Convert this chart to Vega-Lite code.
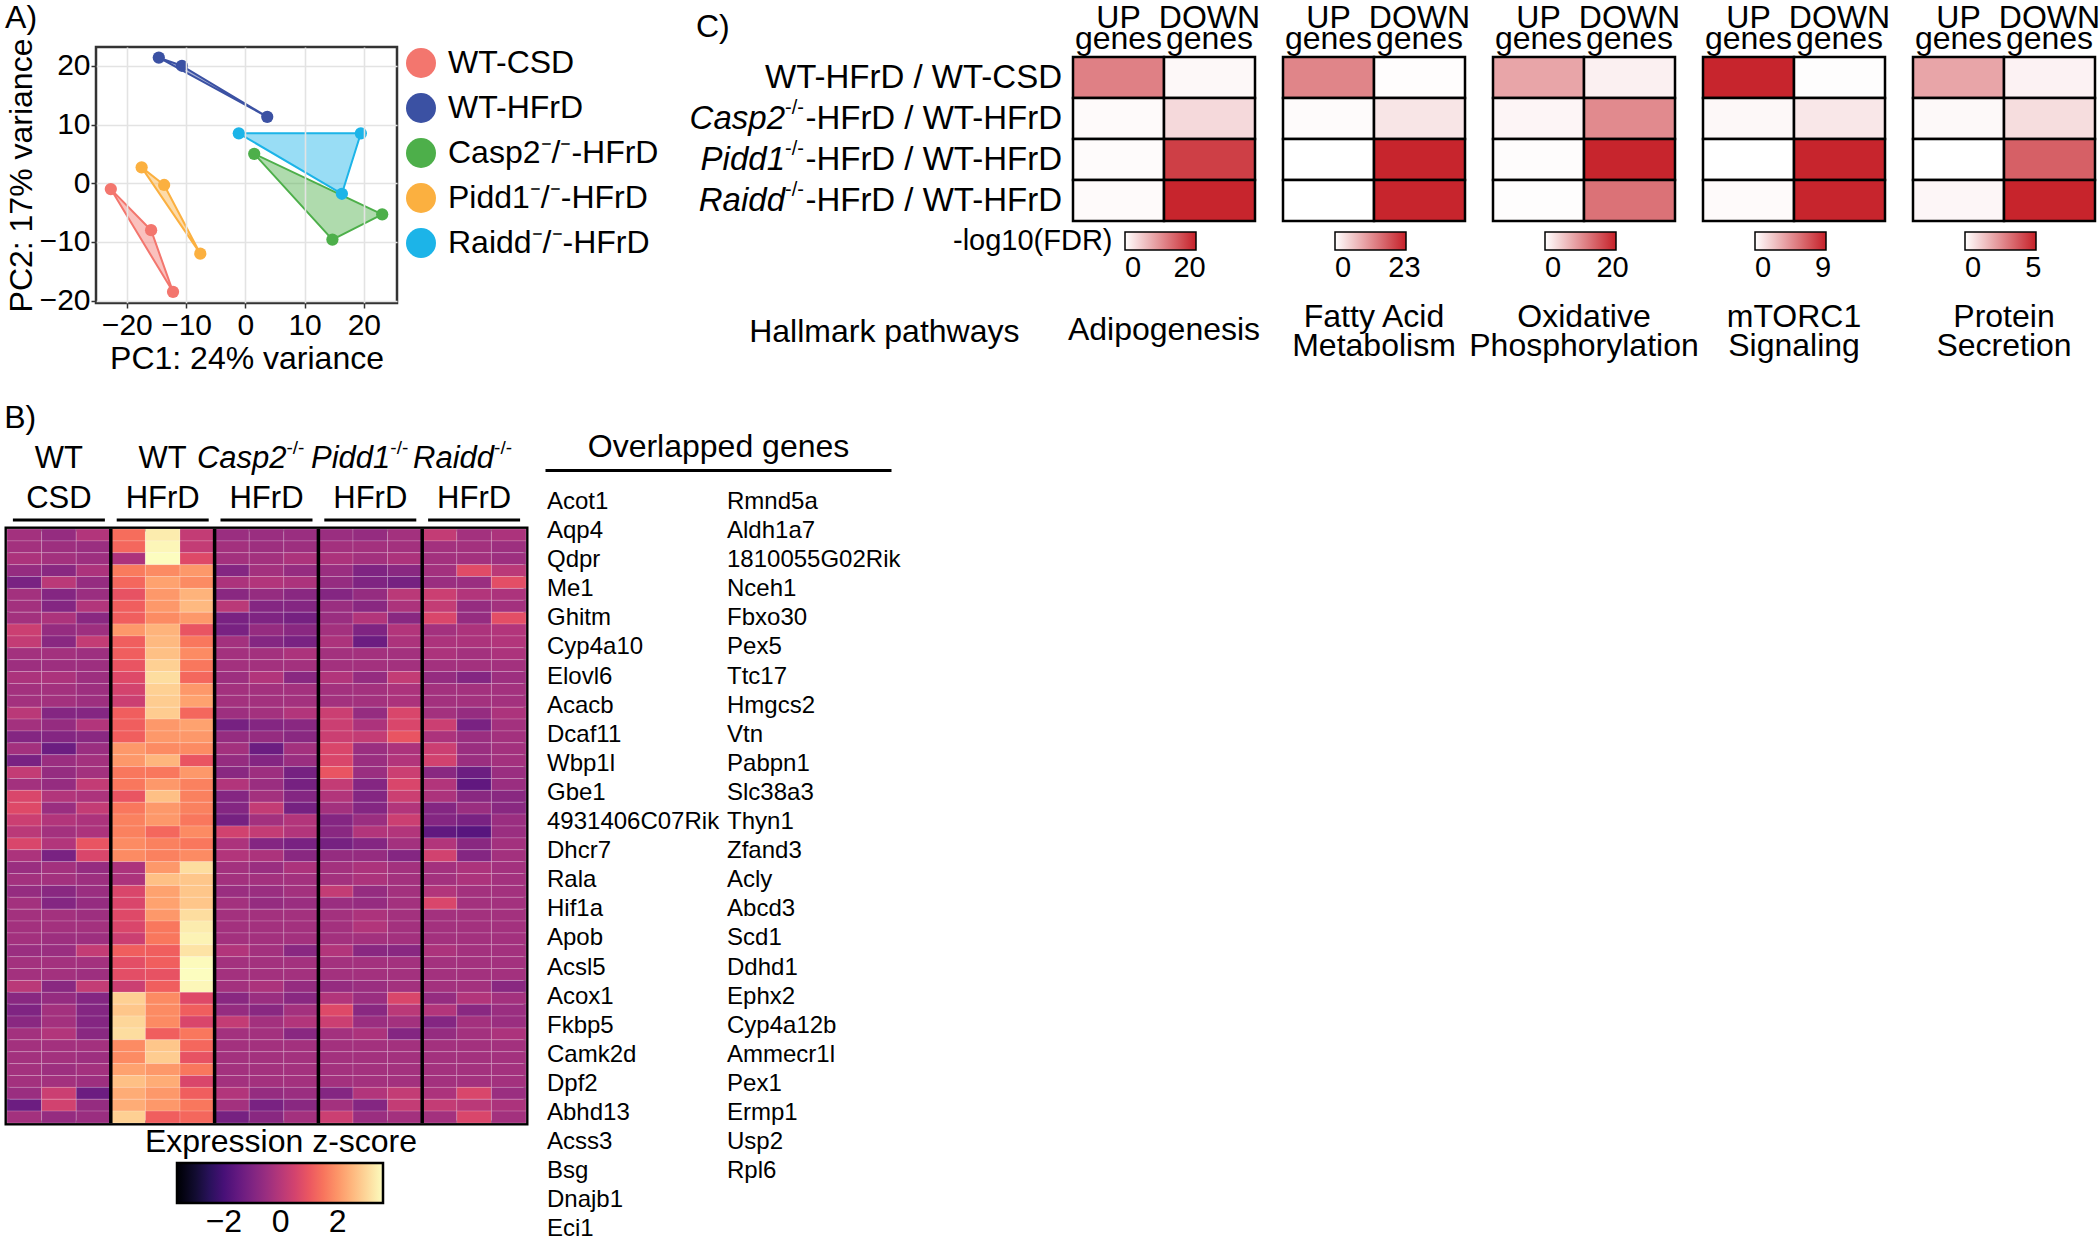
{
"$schema": "https://vega.github.io/schema/vega-lite/v6.json",
"background": "white",
"padding": {"left": 3, "top": 0, "right": 0, "bottom": 0},
"config": {
  "font": "Liberation Sans",
  "view": {"stroke": null},
  "axis": {"labelFont": "Liberation Sans", "titleFont": "Liberation Sans", "labelColor": "black", "titleColor": "black", "titleFontWeight": "normal", "grid": false},
  "legend": {"labelFont": "Liberation Sans", "titleFont": "Liberation Sans", "labelColor": "black", "titleColor": "black", "titleFontWeight": "normal"},
  "title": {"font": "Liberation Sans", "fontWeight": "normal", "color": "black", "fontSize": 32},
  "text": {"font": "Liberation Sans", "color": "black"}
},
"datasets": {
  "pca": [
    {"group": "WT-CSD", "pc1": -22.7, "pc2": -1.0},
    {"group": "WT-CSD", "pc1": -15.9, "pc2": -8.0},
    {"group": "WT-CSD", "pc1": -12.2, "pc2": -18.5},
    {"group": "WT-HFrD", "pc1": -14.6, "pc2": 21.4},
    {"group": "WT-HFrD", "pc1": -10.7, "pc2": 20.0},
    {"group": "WT-HFrD", "pc1": 3.7, "pc2": 11.3},
    {"group": "Casp2\u207b/\u207b-HFrD", "pc1": 1.5, "pc2": 5.0},
    {"group": "Casp2\u207b/\u207b-HFrD", "pc1": 23.1, "pc2": -5.3},
    {"group": "Casp2\u207b/\u207b-HFrD", "pc1": 14.7, "pc2": -9.6},
    {"group": "Pidd1\u207b/\u207b-HFrD", "pc1": -17.5, "pc2": 2.7},
    {"group": "Pidd1\u207b/\u207b-HFrD", "pc1": -13.7, "pc2": -0.3},
    {"group": "Pidd1\u207b/\u207b-HFrD", "pc1": -7.6, "pc2": -12.0},
    {"group": "Raidd\u207b/\u207b-HFrD", "pc1": -1.1, "pc2": 8.5},
    {"group": "Raidd\u207b/\u207b-HFrD", "pc1": 19.5, "pc2": 8.5},
    {"group": "Raidd\u207b/\u207b-HFrD", "pc1": 16.3, "pc2": -1.8}
  ],
  "hull": [
    {"group": "WT-CSD", "ord": 1, "pc1": -22.7, "pc2": -1.0},
    {"group": "WT-CSD", "ord": 2, "pc1": -15.9, "pc2": -8.0},
    {"group": "WT-CSD", "ord": 3, "pc1": -12.2, "pc2": -18.5},
    {"group": "WT-CSD", "ord": 4, "pc1": -22.7, "pc2": -1.0},
    {"group": "WT-HFrD", "ord": 1, "pc1": -14.6, "pc2": 21.4},
    {"group": "WT-HFrD", "ord": 2, "pc1": -10.7, "pc2": 20.0},
    {"group": "WT-HFrD", "ord": 3, "pc1": 3.7, "pc2": 11.3},
    {"group": "WT-HFrD", "ord": 4, "pc1": -14.6, "pc2": 21.4},
    {"group": "Casp2\u207b/\u207b-HFrD", "ord": 1, "pc1": 1.5, "pc2": 5.0},
    {"group": "Casp2\u207b/\u207b-HFrD", "ord": 2, "pc1": 23.1, "pc2": -5.3},
    {"group": "Casp2\u207b/\u207b-HFrD", "ord": 3, "pc1": 14.7, "pc2": -9.6},
    {"group": "Casp2\u207b/\u207b-HFrD", "ord": 4, "pc1": 1.5, "pc2": 5.0},
    {"group": "Pidd1\u207b/\u207b-HFrD", "ord": 1, "pc1": -17.5, "pc2": 2.7},
    {"group": "Pidd1\u207b/\u207b-HFrD", "ord": 2, "pc1": -13.7, "pc2": -0.3},
    {"group": "Pidd1\u207b/\u207b-HFrD", "ord": 3, "pc1": -7.6, "pc2": -12.0},
    {"group": "Pidd1\u207b/\u207b-HFrD", "ord": 4, "pc1": -17.5, "pc2": 2.7},
    {"group": "Raidd\u207b/\u207b-HFrD", "ord": 1, "pc1": -1.1, "pc2": 8.5},
    {"group": "Raidd\u207b/\u207b-HFrD", "ord": 2, "pc1": 19.5, "pc2": 8.5},
    {"group": "Raidd\u207b/\u207b-HFrD", "ord": 3, "pc1": 16.3, "pc2": -1.8},
    {"group": "Raidd\u207b/\u207b-HFrD", "ord": 4, "pc1": -1.1, "pc2": 8.5}
  ],
  "fdr": [
    {"pathway": "Adipogenesis", "cmp": "WT-HFrD / WT-CSD", "dir": "UP genes", "v": 12.5},
    {"pathway": "Adipogenesis", "cmp": "WT-HFrD / WT-CSD", "dir": "DOWN genes", "v": 0.7},
    {"pathway": "Adipogenesis", "cmp": "Casp2-/--HFrD / WT-HFrD", "dir": "UP genes", "v": 0.5},
    {"pathway": "Adipogenesis", "cmp": "Casp2-/--HFrD / WT-HFrD", "dir": "DOWN genes", "v": 3.7},
    {"pathway": "Adipogenesis", "cmp": "Pidd1-/--HFrD / WT-HFrD", "dir": "UP genes", "v": 0.4},
    {"pathway": "Adipogenesis", "cmp": "Pidd1-/--HFrD / WT-HFrD", "dir": "DOWN genes", "v": 18.9},
    {"pathway": "Adipogenesis", "cmp": "Raidd-/--HFrD / WT-HFrD", "dir": "UP genes", "v": 0.5},
    {"pathway": "Adipogenesis", "cmp": "Raidd-/--HFrD / WT-HFrD", "dir": "DOWN genes", "v": 21.5},
    {"pathway": "Fatty Acid Metabolism", "cmp": "WT-HFrD / WT-CSD", "dir": "UP genes", "v": 12.9},
    {"pathway": "Fatty Acid Metabolism", "cmp": "WT-HFrD / WT-CSD", "dir": "DOWN genes", "v": 0.2},
    {"pathway": "Fatty Acid Metabolism", "cmp": "Casp2-/--HFrD / WT-HFrD", "dir": "UP genes", "v": 0.4},
    {"pathway": "Fatty Acid Metabolism", "cmp": "Casp2-/--HFrD / WT-HFrD", "dir": "DOWN genes", "v": 2.7},
    {"pathway": "Fatty Acid Metabolism", "cmp": "Pidd1-/--HFrD / WT-HFrD", "dir": "UP genes", "v": 0.0},
    {"pathway": "Fatty Acid Metabolism", "cmp": "Pidd1-/--HFrD / WT-HFrD", "dir": "DOWN genes", "v": 23.0},
    {"pathway": "Fatty Acid Metabolism", "cmp": "Raidd-/--HFrD / WT-HFrD", "dir": "UP genes", "v": 0.0},
    {"pathway": "Fatty Acid Metabolism", "cmp": "Raidd-/--HFrD / WT-HFrD", "dir": "DOWN genes", "v": 23.0},
    {"pathway": "Oxidative Phosphorylation", "cmp": "WT-HFrD / WT-CSD", "dir": "UP genes", "v": 8.5},
    {"pathway": "Oxidative Phosphorylation", "cmp": "WT-HFrD / WT-CSD", "dir": "DOWN genes", "v": 1.4},
    {"pathway": "Oxidative Phosphorylation", "cmp": "Casp2-/--HFrD / WT-HFrD", "dir": "UP genes", "v": 0.9},
    {"pathway": "Oxidative Phosphorylation", "cmp": "Casp2-/--HFrD / WT-HFrD", "dir": "DOWN genes", "v": 11.0},
    {"pathway": "Oxidative Phosphorylation", "cmp": "Pidd1-/--HFrD / WT-HFrD", "dir": "UP genes", "v": 0.3},
    {"pathway": "Oxidative Phosphorylation", "cmp": "Pidd1-/--HFrD / WT-HFrD", "dir": "DOWN genes", "v": 20.5},
    {"pathway": "Oxidative Phosphorylation", "cmp": "Raidd-/--HFrD / WT-HFrD", "dir": "UP genes", "v": 0.2},
    {"pathway": "Oxidative Phosphorylation", "cmp": "Raidd-/--HFrD / WT-HFrD", "dir": "DOWN genes", "v": 13.3},
    {"pathway": "mTORC1 Signaling", "cmp": "WT-HFrD / WT-CSD", "dir": "UP genes", "v": 9.2},
    {"pathway": "mTORC1 Signaling", "cmp": "WT-HFrD / WT-CSD", "dir": "DOWN genes", "v": 0.1},
    {"pathway": "mTORC1 Signaling", "cmp": "Casp2-/--HFrD / WT-HFrD", "dir": "UP genes", "v": 0.3},
    {"pathway": "mTORC1 Signaling", "cmp": "Casp2-/--HFrD / WT-HFrD", "dir": "DOWN genes", "v": 1.0},
    {"pathway": "mTORC1 Signaling", "cmp": "Pidd1-/--HFrD / WT-HFrD", "dir": "UP genes", "v": 0.0},
    {"pathway": "mTORC1 Signaling", "cmp": "Pidd1-/--HFrD / WT-HFrD", "dir": "DOWN genes", "v": 9.2},
    {"pathway": "mTORC1 Signaling", "cmp": "Raidd-/--HFrD / WT-HFrD", "dir": "UP genes", "v": 0.2},
    {"pathway": "mTORC1 Signaling", "cmp": "Raidd-/--HFrD / WT-HFrD", "dir": "DOWN genes", "v": 9.2},
    {"pathway": "Protein Secretion", "cmp": "WT-HFrD / WT-CSD", "dir": "UP genes", "v": 2.1},
    {"pathway": "Protein Secretion", "cmp": "WT-HFrD / WT-CSD", "dir": "DOWN genes", "v": 0.3},
    {"pathway": "Protein Secretion", "cmp": "Casp2-/--HFrD / WT-HFrD", "dir": "UP genes", "v": 0.15},
    {"pathway": "Protein Secretion", "cmp": "Casp2-/--HFrD / WT-HFrD", "dir": "DOWN genes", "v": 0.8},
    {"pathway": "Protein Secretion", "cmp": "Pidd1-/--HFrD / WT-HFrD", "dir": "UP genes", "v": 0.0},
    {"pathway": "Protein Secretion", "cmp": "Pidd1-/--HFrD / WT-HFrD", "dir": "DOWN genes", "v": 3.7},
    {"pathway": "Protein Secretion", "cmp": "Raidd-/--HFrD / WT-HFrD", "dir": "UP genes", "v": 0.2},
    {"pathway": "Protein Secretion", "cmp": "Raidd-/--HFrD / WT-HFrD", "dir": "DOWN genes", "v": 5.1}
  ],
  "cmplab": [
    {"cmp": "WT-HFrD / WT-CSD", "gene": "", "sup": "", "rest": "WT-HFrD / WT-CSD"},
    {"cmp": "Casp2-/--HFrD / WT-HFrD", "gene": "Casp2", "sup": "-/-", "rest": "-HFrD / WT-HFrD"},
    {"cmp": "Pidd1-/--HFrD / WT-HFrD", "gene": "Pidd1", "sup": "-/-", "rest": "-HFrD / WT-HFrD"},
    {"cmp": "Raidd-/--HFrD / WT-HFrD", "gene": "Raidd", "sup": "-/-", "rest": "-HFrD / WT-HFrD"}
  ],
  "bhdr": [
    {"grp": "WT-CSD", "line": "top", "txt": "WT", "kind": "plain"},
    {"grp": "WT-CSD", "line": "bottom", "txt": "CSD", "kind": "plain"},
    {"grp": "WT-HFrD", "line": "top", "txt": "WT", "kind": "plain"},
    {"grp": "WT-HFrD", "line": "bottom", "txt": "HFrD", "kind": "plain"},
    {"grp": "Casp2-HFrD", "line": "top", "txt": "Casp2", "kind": "gene"},
    {"grp": "Casp2-HFrD", "line": "top", "txt": "-/-", "kind": "sup"},
    {"grp": "Casp2-HFrD", "line": "bottom", "txt": "HFrD", "kind": "plain"},
    {"grp": "Pidd1-HFrD", "line": "top", "txt": "Pidd1", "kind": "gene"},
    {"grp": "Pidd1-HFrD", "line": "top", "txt": "-/-", "kind": "sup"},
    {"grp": "Pidd1-HFrD", "line": "bottom", "txt": "HFrD", "kind": "plain"},
    {"grp": "Raidd-HFrD", "line": "top", "txt": "Raidd", "kind": "gene"},
    {"grp": "Raidd-HFrD", "line": "top", "txt": "-/-", "kind": "sup"},
    {"grp": "Raidd-HFrD", "line": "bottom", "txt": "HFrD", "kind": "plain"},
    {"grp": "WT-CSD", "line": "bottom", "txt": "", "kind": "line"},
    {"grp": "WT-HFrD", "line": "bottom", "txt": "", "kind": "line"},
    {"grp": "Casp2-HFrD", "line": "bottom", "txt": "", "kind": "line"},
    {"grp": "Pidd1-HFrD", "line": "bottom", "txt": "", "kind": "line"},
    {"grp": "Raidd-HFrD", "line": "bottom", "txt": "", "kind": "line"}
  ],
  "genes": [
    {"gene": "Acot1", "col": 1, "row": 1}, {"gene": "Aqp4", "col": 1, "row": 2}, {"gene": "Qdpr", "col": 1, "row": 3},
    {"gene": "Me1", "col": 1, "row": 4}, {"gene": "Ghitm", "col": 1, "row": 5}, {"gene": "Cyp4a10", "col": 1, "row": 6},
    {"gene": "Elovl6", "col": 1, "row": 7}, {"gene": "Acacb", "col": 1, "row": 8}, {"gene": "Dcaf11", "col": 1, "row": 9},
    {"gene": "Wbp1l", "col": 1, "row": 10}, {"gene": "Gbe1", "col": 1, "row": 11}, {"gene": "4931406C07Rik", "col": 1, "row": 12},
    {"gene": "Dhcr7", "col": 1, "row": 13}, {"gene": "Rala", "col": 1, "row": 14}, {"gene": "Hif1a", "col": 1, "row": 15},
    {"gene": "Apob", "col": 1, "row": 16}, {"gene": "Acsl5", "col": 1, "row": 17}, {"gene": "Acox1", "col": 1, "row": 18},
    {"gene": "Fkbp5", "col": 1, "row": 19}, {"gene": "Camk2d", "col": 1, "row": 20}, {"gene": "Dpf2", "col": 1, "row": 21},
    {"gene": "Abhd13", "col": 1, "row": 22}, {"gene": "Acss3", "col": 1, "row": 23}, {"gene": "Bsg", "col": 1, "row": 24},
    {"gene": "Dnajb1", "col": 1, "row": 25}, {"gene": "Eci1", "col": 1, "row": 26},
    {"gene": "Rmnd5a", "col": 2, "row": 1}, {"gene": "Aldh1a7", "col": 2, "row": 2}, {"gene": "1810055G02Rik", "col": 2, "row": 3},
    {"gene": "Nceh1", "col": 2, "row": 4}, {"gene": "Fbxo30", "col": 2, "row": 5}, {"gene": "Pex5", "col": 2, "row": 6},
    {"gene": "Ttc17", "col": 2, "row": 7}, {"gene": "Hmgcs2", "col": 2, "row": 8}, {"gene": "Vtn", "col": 2, "row": 9},
    {"gene": "Pabpn1", "col": 2, "row": 10}, {"gene": "Slc38a3", "col": 2, "row": 11}, {"gene": "Thyn1", "col": 2, "row": 12},
    {"gene": "Zfand3", "col": 2, "row": 13}, {"gene": "Acly", "col": 2, "row": 14}, {"gene": "Abcd3", "col": 2, "row": 15},
    {"gene": "Scd1", "col": 2, "row": 16}, {"gene": "Ddhd1", "col": 2, "row": 17}, {"gene": "Ephx2", "col": 2, "row": 18},
    {"gene": "Cyp4a12b", "col": 2, "row": 19}, {"gene": "Ammecr1l", "col": 2, "row": 20}, {"gene": "Pex1", "col": 2, "row": 21},
    {"gene": "Ermp1", "col": 2, "row": 22}, {"gene": "Usp2", "col": 2, "row": 23}, {"gene": "Rpl6", "col": 2, "row": 24}
  ],
  "expr": [
{"row":1,"sample":1,"z":-0.35},{"row":1,"sample":2,"z":-0.6},{"row":1,"sample":3,"z":-0.1},{"row":1,"sample":4,"z":1.4},{"row":1,"sample":5,"z":3.35},{"row":1,"sample":6,"z":0.2},{"row":1,"sample":7,"z":-0.5},{"row":1,"sample":8,"z":-0.5},{"row":1,"sample":9,"z":-0.5},{"row":1,"sample":10,"z":-0.5},{"row":1,"sample":11,"z":-0.6},{"row":1,"sample":12,"z":-0.35},{"row":1,"sample":13,"z":0.2},{"row":1,"sample":14,"z":-0.35},{"row":1,"sample":15,"z":-0.2},
{"row":2,"sample":1,"z":-0.35},{"row":2,"sample":2,"z":-0.45},{"row":2,"sample":3,"z":-0.5},{"row":2,"sample":4,"z":1.3},{"row":2,"sample":5,"z":3.5},{"row":2,"sample":6,"z":0.2},{"row":2,"sample":7,"z":-0.35},{"row":2,"sample":8,"z":-0.45},{"row":2,"sample":9,"z":-0.45},{"row":2,"sample":10,"z":-0.35},{"row":2,"sample":11,"z":-0.35},{"row":2,"sample":12,"z":-0.35},{"row":2,"sample":13,"z":-0.35},{"row":2,"sample":14,"z":-0.35},{"row":2,"sample":15,"z":-0.45},
{"row":3,"sample":1,"z":-0.2},{"row":3,"sample":2,"z":-0.35},{"row":3,"sample":3,"z":-0.45},{"row":3,"sample":4,"z":-0.2},{"row":3,"sample":5,"z":3.6},{"row":3,"sample":6,"z":0.7},{"row":3,"sample":7,"z":-0.35},{"row":3,"sample":8,"z":-0.35},{"row":3,"sample":9,"z":-0.2},{"row":3,"sample":10,"z":-0.2},{"row":3,"sample":11,"z":-0.35},{"row":3,"sample":12,"z":-0.2},{"row":3,"sample":13,"z":-0.35},{"row":3,"sample":14,"z":-0.35},{"row":3,"sample":15,"z":-0.45},
{"row":4,"sample":1,"z":-0.6},{"row":4,"sample":2,"z":-0.8},{"row":4,"sample":3,"z":-0.2},{"row":4,"sample":4,"z":1.6},{"row":4,"sample":5,"z":1.85},{"row":4,"sample":6,"z":2.05},{"row":4,"sample":7,"z":-0.9},{"row":4,"sample":8,"z":-0.35},{"row":4,"sample":9,"z":-0.6},{"row":4,"sample":10,"z":-0.5},{"row":4,"sample":11,"z":-1.0},{"row":4,"sample":12,"z":-0.8},{"row":4,"sample":13,"z":-0.35},{"row":4,"sample":14,"z":0.75},{"row":4,"sample":15,"z":0.05},
{"row":5,"sample":1,"z":-1.1},{"row":5,"sample":2,"z":0.05},{"row":5,"sample":3,"z":-0.6},{"row":5,"sample":4,"z":1.3},{"row":5,"sample":5,"z":2.2},{"row":5,"sample":6,"z":1.85},{"row":5,"sample":7,"z":-0.2},{"row":5,"sample":8,"z":-0.1},{"row":5,"sample":9,"z":-0.2},{"row":5,"sample":10,"z":-0.6},{"row":5,"sample":11,"z":-1.0},{"row":5,"sample":12,"z":-1.15},{"row":5,"sample":13,"z":-0.5},{"row":5,"sample":14,"z":-0.5},{"row":5,"sample":15,"z":0.8},
{"row":6,"sample":1,"z":-0.35},{"row":6,"sample":2,"z":-0.9},{"row":6,"sample":3,"z":-0.5},{"row":6,"sample":4,"z":0.9},{"row":6,"sample":5,"z":2.05},{"row":6,"sample":6,"z":2.45},{"row":6,"sample":7,"z":-0.8},{"row":6,"sample":8,"z":-0.6},{"row":6,"sample":9,"z":-0.8},{"row":6,"sample":10,"z":-0.9},{"row":6,"sample":11,"z":-0.6},{"row":6,"sample":12,"z":0.05},{"row":6,"sample":13,"z":0.35},{"row":6,"sample":14,"z":-0.1},{"row":6,"sample":15,"z":-0.2},
{"row":7,"sample":1,"z":-0.35},{"row":7,"sample":2,"z":-0.9},{"row":7,"sample":3,"z":-0.1},{"row":7,"sample":4,"z":1.15},{"row":7,"sample":5,"z":2.05},{"row":7,"sample":6,"z":2.55},{"row":7,"sample":7,"z":0.05},{"row":7,"sample":8,"z":-0.9},{"row":7,"sample":9,"z":-0.9},{"row":7,"sample":10,"z":-0.5},{"row":7,"sample":11,"z":-0.8},{"row":7,"sample":12,"z":-0.2},{"row":7,"sample":13,"z":0.2},{"row":7,"sample":14,"z":-0.6},{"row":7,"sample":15,"z":-0.35},
{"row":8,"sample":1,"z":-0.35},{"row":8,"sample":2,"z":-0.2},{"row":8,"sample":3,"z":-0.8},{"row":8,"sample":4,"z":1.15},{"row":8,"sample":5,"z":1.85},{"row":8,"sample":6,"z":2.05},{"row":8,"sample":7,"z":-1.1},{"row":8,"sample":8,"z":-1.0},{"row":8,"sample":9,"z":-1.15},{"row":8,"sample":10,"z":-0.5},{"row":8,"sample":11,"z":-0.1},{"row":8,"sample":12,"z":-0.8},{"row":8,"sample":13,"z":0.6},{"row":8,"sample":14,"z":-0.6},{"row":8,"sample":15,"z":0.8},
{"row":9,"sample":1,"z":0.35},{"row":9,"sample":2,"z":-0.6},{"row":9,"sample":3,"z":-0.45},{"row":9,"sample":4,"z":2.05},{"row":9,"sample":5,"z":2.45},{"row":9,"sample":6,"z":0.95},{"row":9,"sample":7,"z":-1.1},{"row":9,"sample":8,"z":-0.6},{"row":9,"sample":9,"z":-0.8},{"row":9,"sample":10,"z":-0.35},{"row":9,"sample":11,"z":-1.0},{"row":9,"sample":12,"z":-0.1},{"row":9,"sample":13,"z":-0.35},{"row":9,"sample":14,"z":-0.2},{"row":9,"sample":15,"z":-0.1},
{"row":10,"sample":1,"z":0.2},{"row":10,"sample":2,"z":-0.8},{"row":10,"sample":3,"z":0.2},{"row":10,"sample":4,"z":1.15},{"row":10,"sample":5,"z":2.55},{"row":10,"sample":6,"z":1.55},{"row":10,"sample":7,"z":-0.35},{"row":10,"sample":8,"z":-0.9},{"row":10,"sample":9,"z":-1.1},{"row":10,"sample":10,"z":-0.2},{"row":10,"sample":11,"z":-1.35},{"row":10,"sample":12,"z":-0.2},{"row":10,"sample":13,"z":-0.2},{"row":10,"sample":14,"z":-0.2},{"row":10,"sample":15,"z":-0.1},
{"row":11,"sample":1,"z":-0.35},{"row":11,"sample":2,"z":-0.35},{"row":11,"sample":3,"z":-0.45},{"row":11,"sample":4,"z":1.15},{"row":11,"sample":5,"z":2.65},{"row":11,"sample":6,"z":1.85},{"row":11,"sample":7,"z":-0.35},{"row":11,"sample":8,"z":-0.35},{"row":11,"sample":9,"z":-0.2},{"row":11,"sample":10,"z":-0.35},{"row":11,"sample":11,"z":-0.35},{"row":11,"sample":12,"z":-0.35},{"row":11,"sample":13,"z":-0.2},{"row":11,"sample":14,"z":-0.35},{"row":11,"sample":15,"z":-0.2},
{"row":12,"sample":1,"z":-0.45},{"row":12,"sample":2,"z":-0.45},{"row":12,"sample":3,"z":-0.45},{"row":12,"sample":4,"z":0.95},{"row":12,"sample":5,"z":2.9},{"row":12,"sample":6,"z":1.55},{"row":12,"sample":7,"z":-0.35},{"row":12,"sample":8,"z":-0.35},{"row":12,"sample":9,"z":-0.35},{"row":12,"sample":10,"z":-0.35},{"row":12,"sample":11,"z":-0.35},{"row":12,"sample":12,"z":-0.35},{"row":12,"sample":13,"z":-0.35},{"row":12,"sample":14,"z":-0.35},{"row":12,"sample":15,"z":-0.35},
{"row":13,"sample":1,"z":-0.2},{"row":13,"sample":2,"z":-0.2},{"row":13,"sample":3,"z":-0.45},{"row":13,"sample":4,"z":0.7},{"row":13,"sample":5,"z":3.1},{"row":13,"sample":6,"z":1.3},{"row":13,"sample":7,"z":-0.45},{"row":13,"sample":8,"z":-0.1},{"row":13,"sample":9,"z":-0.8},{"row":13,"sample":10,"z":-0.1},{"row":13,"sample":11,"z":-0.6},{"row":13,"sample":12,"z":0.2},{"row":13,"sample":13,"z":-0.6},{"row":13,"sample":14,"z":-0.9},{"row":13,"sample":15,"z":-0.45},
{"row":14,"sample":1,"z":-0.35},{"row":14,"sample":2,"z":-0.35},{"row":14,"sample":3,"z":-0.45},{"row":14,"sample":4,"z":0.5},{"row":14,"sample":5,"z":2.9},{"row":14,"sample":6,"z":2.05},{"row":14,"sample":7,"z":-0.35},{"row":14,"sample":8,"z":-0.35},{"row":14,"sample":9,"z":-0.35},{"row":14,"sample":10,"z":-0.35},{"row":14,"sample":11,"z":-0.35},{"row":14,"sample":12,"z":-0.2},{"row":14,"sample":13,"z":-0.35},{"row":14,"sample":14,"z":-0.35},{"row":14,"sample":15,"z":-0.35},
{"row":15,"sample":1,"z":-0.35},{"row":15,"sample":2,"z":-0.35},{"row":15,"sample":3,"z":-0.45},{"row":15,"sample":4,"z":0.35},{"row":15,"sample":5,"z":2.85},{"row":15,"sample":6,"z":2.2},{"row":15,"sample":7,"z":-0.35},{"row":15,"sample":8,"z":-0.35},{"row":15,"sample":9,"z":-0.35},{"row":15,"sample":10,"z":-0.35},{"row":15,"sample":11,"z":-0.35},{"row":15,"sample":12,"z":-0.2},{"row":15,"sample":13,"z":-0.35},{"row":15,"sample":14,"z":-0.35},{"row":15,"sample":15,"z":-0.35},
{"row":16,"sample":1,"z":0.05},{"row":16,"sample":2,"z":-0.9},{"row":16,"sample":3,"z":-0.9},{"row":16,"sample":4,"z":1.15},{"row":16,"sample":5,"z":2.85},{"row":16,"sample":6,"z":1.3},{"row":16,"sample":7,"z":-0.45},{"row":16,"sample":8,"z":-0.35},{"row":16,"sample":9,"z":-0.1},{"row":16,"sample":10,"z":0.35},{"row":16,"sample":11,"z":-0.6},{"row":16,"sample":12,"z":0.6},{"row":16,"sample":13,"z":-0.35},{"row":16,"sample":14,"z":-0.6},{"row":16,"sample":15,"z":-0.2},
{"row":17,"sample":1,"z":-0.35},{"row":17,"sample":2,"z":-0.6},{"row":17,"sample":3,"z":-0.1},{"row":17,"sample":4,"z":1.15},{"row":17,"sample":5,"z":2.05},{"row":17,"sample":6,"z":2.2},{"row":17,"sample":7,"z":-1.15},{"row":17,"sample":8,"z":-0.9},{"row":17,"sample":9,"z":-0.8},{"row":17,"sample":10,"z":0.35},{"row":17,"sample":11,"z":-0.2},{"row":17,"sample":12,"z":0.6},{"row":17,"sample":13,"z":0.35},{"row":17,"sample":14,"z":-1.1},{"row":17,"sample":15,"z":-0.35},
{"row":18,"sample":1,"z":-0.9},{"row":18,"sample":2,"z":-0.9},{"row":18,"sample":3,"z":-0.8},{"row":18,"sample":4,"z":1.15},{"row":18,"sample":5,"z":2.05},{"row":18,"sample":6,"z":2.05},{"row":18,"sample":7,"z":-0.6},{"row":18,"sample":8,"z":-0.6},{"row":18,"sample":9,"z":-0.8},{"row":18,"sample":10,"z":0.35},{"row":18,"sample":11,"z":0.2},{"row":18,"sample":12,"z":0.95},{"row":18,"sample":13,"z":-0.2},{"row":18,"sample":14,"z":-0.5},{"row":18,"sample":15,"z":-0.35},
{"row":19,"sample":1,"z":-0.35},{"row":19,"sample":2,"z":-1.35},{"row":19,"sample":3,"z":-0.5},{"row":19,"sample":4,"z":2.05},{"row":19,"sample":5,"z":1.85},{"row":19,"sample":6,"z":1.85},{"row":19,"sample":7,"z":-0.35},{"row":19,"sample":8,"z":-1.35},{"row":19,"sample":9,"z":-0.35},{"row":19,"sample":10,"z":0.6},{"row":19,"sample":11,"z":-0.5},{"row":19,"sample":12,"z":-0.2},{"row":19,"sample":13,"z":0.35},{"row":19,"sample":14,"z":-0.5},{"row":19,"sample":15,"z":-0.35},
{"row":20,"sample":1,"z":-1.1},{"row":20,"sample":2,"z":-0.5},{"row":20,"sample":3,"z":-0.35},{"row":20,"sample":4,"z":2.05},{"row":20,"sample":5,"z":2.5},{"row":20,"sample":6,"z":0.95},{"row":20,"sample":7,"z":-0.6},{"row":20,"sample":8,"z":-0.9},{"row":20,"sample":9,"z":-0.5},{"row":20,"sample":10,"z":0.6},{"row":20,"sample":11,"z":-0.5},{"row":20,"sample":12,"z":-0.1},{"row":20,"sample":13,"z":0.45},{"row":20,"sample":14,"z":-0.5},{"row":20,"sample":15,"z":-0.35},
{"row":21,"sample":1,"z":0.2},{"row":21,"sample":2,"z":-0.6},{"row":21,"sample":3,"z":-0.35},{"row":21,"sample":4,"z":1.55},{"row":21,"sample":5,"z":1.55},{"row":21,"sample":6,"z":2.05},{"row":21,"sample":7,"z":-0.8},{"row":21,"sample":8,"z":-0.45},{"row":21,"sample":9,"z":-1.15},{"row":21,"sample":10,"z":0.95},{"row":21,"sample":11,"z":-0.5},{"row":21,"sample":12,"z":0.35},{"row":21,"sample":13,"z":-0.8},{"row":21,"sample":14,"z":-1.35},{"row":21,"sample":15,"z":-0.5},
{"row":22,"sample":1,"z":-0.35},{"row":22,"sample":2,"z":-0.6},{"row":22,"sample":3,"z":0.2},{"row":22,"sample":4,"z":1.55},{"row":22,"sample":5,"z":2.05},{"row":22,"sample":6,"z":1.7},{"row":22,"sample":7,"z":-0.1},{"row":22,"sample":8,"z":-0.5},{"row":22,"sample":9,"z":-1.15},{"row":22,"sample":10,"z":0.2},{"row":22,"sample":11,"z":-0.9},{"row":22,"sample":12,"z":0.6},{"row":22,"sample":13,"z":-0.1},{"row":22,"sample":14,"z":-1.55},{"row":22,"sample":15,"z":-0.5},
{"row":23,"sample":1,"z":0.6},{"row":23,"sample":2,"z":-0.1},{"row":23,"sample":3,"z":-0.2},{"row":23,"sample":4,"z":0.95},{"row":23,"sample":5,"z":2.65},{"row":23,"sample":6,"z":1.7},{"row":23,"sample":7,"z":-0.9},{"row":23,"sample":8,"z":-0.35},{"row":23,"sample":9,"z":-0.9},{"row":23,"sample":10,"z":-0.1},{"row":23,"sample":11,"z":-0.9},{"row":23,"sample":12,"z":0.35},{"row":23,"sample":13,"z":-0.2},{"row":23,"sample":14,"z":-0.8},{"row":23,"sample":15,"z":-0.8},
{"row":24,"sample":1,"z":0.7},{"row":24,"sample":2,"z":-0.5},{"row":24,"sample":3,"z":0.2},{"row":24,"sample":4,"z":1.55},{"row":24,"sample":5,"z":2.05},{"row":24,"sample":6,"z":1.7},{"row":24,"sample":7,"z":-0.9},{"row":24,"sample":8,"z":0.2},{"row":24,"sample":9,"z":-1.15},{"row":24,"sample":10,"z":-0.35},{"row":24,"sample":11,"z":-0.9},{"row":24,"sample":12,"z":-0.1},{"row":24,"sample":13,"z":-0.9},{"row":24,"sample":14,"z":-0.5},{"row":24,"sample":15,"z":-0.8},
{"row":25,"sample":1,"z":0.35},{"row":25,"sample":2,"z":-0.1},{"row":25,"sample":3,"z":-0.2},{"row":25,"sample":4,"z":1.7},{"row":25,"sample":5,"z":2.05},{"row":25,"sample":6,"z":1.55},{"row":25,"sample":7,"z":-1.15},{"row":25,"sample":8,"z":-0.35},{"row":25,"sample":9,"z":-0.1},{"row":25,"sample":10,"z":-0.9},{"row":25,"sample":11,"z":-0.5},{"row":25,"sample":12,"z":0.35},{"row":25,"sample":13,"z":-0.9},{"row":25,"sample":14,"z":-1.1},{"row":25,"sample":15,"z":-0.5},
{"row":26,"sample":1,"z":0.05},{"row":26,"sample":2,"z":-0.35},{"row":26,"sample":3,"z":-0.2},{"row":26,"sample":4,"z":1.7},{"row":26,"sample":5,"z":1.3},{"row":26,"sample":6,"z":1.85},{"row":26,"sample":7,"z":0.45},{"row":26,"sample":8,"z":0.2},{"row":26,"sample":9,"z":-0.1},{"row":26,"sample":10,"z":-0.8},{"row":26,"sample":11,"z":-0.1},{"row":26,"sample":12,"z":-0.1},{"row":26,"sample":13,"z":-1.55},{"row":26,"sample":14,"z":-1.7},{"row":26,"sample":15,"z":-0.5},
{"row":27,"sample":1,"z":0.6},{"row":27,"sample":2,"z":-0.1},{"row":27,"sample":3,"z":0.95},{"row":27,"sample":4,"z":1.85},{"row":27,"sample":5,"z":1.7},{"row":27,"sample":6,"z":1.55},{"row":27,"sample":7,"z":-0.2},{"row":27,"sample":8,"z":-0.9},{"row":27,"sample":9,"z":-1.1},{"row":27,"sample":10,"z":-1.15},{"row":27,"sample":11,"z":-0.9},{"row":27,"sample":12,"z":-0.35},{"row":27,"sample":13,"z":-0.1},{"row":27,"sample":14,"z":-0.8},{"row":27,"sample":15,"z":-0.35},
{"row":28,"sample":1,"z":-0.2},{"row":28,"sample":2,"z":-1.1},{"row":28,"sample":3,"z":0.6},{"row":28,"sample":4,"z":1.85},{"row":28,"sample":5,"z":1.7},{"row":28,"sample":6,"z":1.85},{"row":28,"sample":7,"z":-0.1},{"row":28,"sample":8,"z":-0.2},{"row":28,"sample":9,"z":-0.8},{"row":28,"sample":10,"z":-0.6},{"row":28,"sample":11,"z":-0.6},{"row":28,"sample":12,"z":-0.9},{"row":28,"sample":13,"z":0.45},{"row":28,"sample":14,"z":-0.9},{"row":28,"sample":15,"z":-0.35},
{"row":29,"sample":1,"z":-0.5},{"row":29,"sample":2,"z":-0.35},{"row":29,"sample":3,"z":-0.6},{"row":29,"sample":4,"z":-0.2},{"row":29,"sample":5,"z":2.05},{"row":29,"sample":6,"z":3.1},{"row":29,"sample":7,"z":-0.35},{"row":29,"sample":8,"z":-0.5},{"row":29,"sample":9,"z":-0.2},{"row":29,"sample":10,"z":-0.35},{"row":29,"sample":11,"z":-0.2},{"row":29,"sample":12,"z":-0.35},{"row":29,"sample":13,"z":-0.35},{"row":29,"sample":14,"z":-0.2},{"row":29,"sample":15,"z":-0.35},
{"row":30,"sample":1,"z":-0.35},{"row":30,"sample":2,"z":-0.35},{"row":30,"sample":3,"z":-0.45},{"row":30,"sample":4,"z":-0.2},{"row":30,"sample":5,"z":2.65},{"row":30,"sample":6,"z":2.75},{"row":30,"sample":7,"z":-0.35},{"row":30,"sample":8,"z":-0.35},{"row":30,"sample":9,"z":-0.35},{"row":30,"sample":10,"z":-0.35},{"row":30,"sample":11,"z":-0.2},{"row":30,"sample":12,"z":-0.35},{"row":30,"sample":13,"z":-0.35},{"row":30,"sample":14,"z":-0.2},{"row":30,"sample":15,"z":-0.35},
{"row":31,"sample":1,"z":-0.6},{"row":31,"sample":2,"z":-0.8},{"row":31,"sample":3,"z":-0.5},{"row":31,"sample":4,"z":0.6},{"row":31,"sample":5,"z":2.2},{"row":31,"sample":6,"z":2.75},{"row":31,"sample":7,"z":-0.5},{"row":31,"sample":8,"z":-0.5},{"row":31,"sample":9,"z":-0.35},{"row":31,"sample":10,"z":0.2},{"row":31,"sample":11,"z":-0.6},{"row":31,"sample":12,"z":-0.35},{"row":31,"sample":13,"z":-0.1},{"row":31,"sample":14,"z":-0.35},{"row":31,"sample":15,"z":-0.35},
{"row":32,"sample":1,"z":-0.35},{"row":32,"sample":2,"z":-0.9},{"row":32,"sample":3,"z":-0.6},{"row":32,"sample":4,"z":0.6},{"row":32,"sample":5,"z":2.2},{"row":32,"sample":6,"z":2.75},{"row":32,"sample":7,"z":-0.35},{"row":32,"sample":8,"z":-0.6},{"row":32,"sample":9,"z":-0.5},{"row":32,"sample":10,"z":-0.5},{"row":32,"sample":11,"z":-0.6},{"row":32,"sample":12,"z":-0.35},{"row":32,"sample":13,"z":0.6},{"row":32,"sample":14,"z":-0.35},{"row":32,"sample":15,"z":-0.35},
{"row":33,"sample":1,"z":-0.35},{"row":33,"sample":2,"z":-0.35},{"row":33,"sample":3,"z":-0.45},{"row":33,"sample":4,"z":0.7},{"row":33,"sample":5,"z":2.05},{"row":33,"sample":6,"z":3.1},{"row":33,"sample":7,"z":-0.35},{"row":33,"sample":8,"z":-0.35},{"row":33,"sample":9,"z":-0.35},{"row":33,"sample":10,"z":-0.35},{"row":33,"sample":11,"z":-0.2},{"row":33,"sample":12,"z":-0.35},{"row":33,"sample":13,"z":-0.35},{"row":33,"sample":14,"z":-0.35},{"row":33,"sample":15,"z":-0.35},
{"row":34,"sample":1,"z":-0.35},{"row":34,"sample":2,"z":-0.35},{"row":34,"sample":3,"z":-0.35},{"row":34,"sample":4,"z":0.6},{"row":34,"sample":5,"z":1.55},{"row":34,"sample":6,"z":3.35},{"row":34,"sample":7,"z":-0.35},{"row":34,"sample":8,"z":-0.35},{"row":34,"sample":9,"z":-0.35},{"row":34,"sample":10,"z":-0.35},{"row":34,"sample":11,"z":-0.1},{"row":34,"sample":12,"z":-0.35},{"row":34,"sample":13,"z":-0.35},{"row":34,"sample":14,"z":-0.35},{"row":34,"sample":15,"z":-0.35},
{"row":35,"sample":1,"z":-0.35},{"row":35,"sample":2,"z":-0.45},{"row":35,"sample":3,"z":-0.45},{"row":35,"sample":4,"z":0.35},{"row":35,"sample":5,"z":1.55},{"row":35,"sample":6,"z":3.45},{"row":35,"sample":7,"z":-0.35},{"row":35,"sample":8,"z":-0.35},{"row":35,"sample":9,"z":-0.35},{"row":35,"sample":10,"z":-0.35},{"row":35,"sample":11,"z":-0.35},{"row":35,"sample":12,"z":-0.35},{"row":35,"sample":13,"z":-0.35},{"row":35,"sample":14,"z":-0.35},{"row":35,"sample":15,"z":-0.35},
{"row":36,"sample":1,"z":-0.5},{"row":36,"sample":2,"z":-0.5},{"row":36,"sample":3,"z":0.2},{"row":36,"sample":4,"z":1.15},{"row":36,"sample":5,"z":1.15},{"row":36,"sample":6,"z":3.2},{"row":36,"sample":7,"z":-0.1},{"row":36,"sample":8,"z":-0.35},{"row":36,"sample":9,"z":-0.8},{"row":36,"sample":10,"z":-0.1},{"row":36,"sample":11,"z":-0.8},{"row":36,"sample":12,"z":-0.8},{"row":36,"sample":13,"z":-0.2},{"row":36,"sample":14,"z":-0.35},{"row":36,"sample":15,"z":-0.35},
{"row":37,"sample":1,"z":-0.35},{"row":37,"sample":2,"z":-0.35},{"row":37,"sample":3,"z":-0.35},{"row":37,"sample":4,"z":0.8},{"row":37,"sample":5,"z":1.15},{"row":37,"sample":6,"z":3.55},{"row":37,"sample":7,"z":-0.35},{"row":37,"sample":8,"z":-0.35},{"row":37,"sample":9,"z":-0.35},{"row":37,"sample":10,"z":-0.35},{"row":37,"sample":11,"z":-0.35},{"row":37,"sample":12,"z":-0.35},{"row":37,"sample":13,"z":-0.35},{"row":37,"sample":14,"z":-0.35},{"row":37,"sample":15,"z":-0.35},
{"row":38,"sample":1,"z":-0.35},{"row":38,"sample":2,"z":-0.35},{"row":38,"sample":3,"z":-0.45},{"row":38,"sample":4,"z":0.8},{"row":38,"sample":5,"z":0.9},{"row":38,"sample":6,"z":3.6},{"row":38,"sample":7,"z":-0.35},{"row":38,"sample":8,"z":-0.35},{"row":38,"sample":9,"z":-0.35},{"row":38,"sample":10,"z":-0.35},{"row":38,"sample":11,"z":-0.35},{"row":38,"sample":12,"z":-0.35},{"row":38,"sample":13,"z":-0.35},{"row":38,"sample":14,"z":-0.35},{"row":38,"sample":15,"z":-0.35},
{"row":39,"sample":1,"z":0.05},{"row":39,"sample":2,"z":-0.8},{"row":39,"sample":3,"z":0.2},{"row":39,"sample":4,"z":0.35},{"row":39,"sample":5,"z":1.15},{"row":39,"sample":6,"z":3.5},{"row":39,"sample":7,"z":-0.35},{"row":39,"sample":8,"z":-0.2},{"row":39,"sample":9,"z":-0.6},{"row":39,"sample":10,"z":-0.6},{"row":39,"sample":11,"z":-0.5},{"row":39,"sample":12,"z":-0.35},{"row":39,"sample":13,"z":-0.35},{"row":39,"sample":14,"z":-0.35},{"row":39,"sample":15,"z":-0.8},
{"row":40,"sample":1,"z":-0.8},{"row":40,"sample":2,"z":-0.6},{"row":40,"sample":3,"z":-0.9},{"row":40,"sample":4,"z":2.9},{"row":40,"sample":5,"z":1.85},{"row":40,"sample":6,"z":0.7},{"row":40,"sample":7,"z":-0.8},{"row":40,"sample":8,"z":-0.5},{"row":40,"sample":9,"z":-0.8},{"row":40,"sample":10,"z":-0.1},{"row":40,"sample":11,"z":-0.5},{"row":40,"sample":12,"z":0.6},{"row":40,"sample":13,"z":-0.6},{"row":40,"sample":14,"z":-0.1},{"row":40,"sample":15,"z":-0.35},
{"row":41,"sample":1,"z":-1.0},{"row":41,"sample":2,"z":-0.35},{"row":41,"sample":3,"z":-0.9},{"row":41,"sample":4,"z":2.75},{"row":41,"sample":5,"z":1.85},{"row":41,"sample":6,"z":1.15},{"row":41,"sample":7,"z":-0.6},{"row":41,"sample":8,"z":-0.8},{"row":41,"sample":9,"z":-0.35},{"row":41,"sample":10,"z":0.7},{"row":41,"sample":11,"z":-0.8},{"row":41,"sample":12,"z":0.05},{"row":41,"sample":13,"z":-0.1},{"row":41,"sample":14,"z":-0.8},{"row":41,"sample":15,"z":-0.5},
{"row":42,"sample":1,"z":-0.8},{"row":42,"sample":2,"z":-0.35},{"row":42,"sample":3,"z":-0.9},{"row":42,"sample":4,"z":3.0},{"row":42,"sample":5,"z":1.85},{"row":42,"sample":6,"z":0.6},{"row":42,"sample":7,"z":0.2},{"row":42,"sample":8,"z":-0.35},{"row":42,"sample":9,"z":-0.1},{"row":42,"sample":10,"z":0.35},{"row":42,"sample":11,"z":-0.5},{"row":42,"sample":12,"z":-0.35},{"row":42,"sample":13,"z":-0.9},{"row":42,"sample":14,"z":-0.35},{"row":42,"sample":15,"z":-0.5},
{"row":43,"sample":1,"z":-0.35},{"row":43,"sample":2,"z":-0.1},{"row":43,"sample":3,"z":-0.8},{"row":43,"sample":4,"z":3.1},{"row":43,"sample":5,"z":1.15},{"row":43,"sample":6,"z":1.55},{"row":43,"sample":7,"z":-0.35},{"row":43,"sample":8,"z":-0.35},{"row":43,"sample":9,"z":-0.8},{"row":43,"sample":10,"z":-0.35},{"row":43,"sample":11,"z":-0.2},{"row":43,"sample":12,"z":-0.9},{"row":43,"sample":13,"z":-0.6},{"row":43,"sample":14,"z":-0.35},{"row":43,"sample":15,"z":-0.2},
{"row":44,"sample":1,"z":-0.35},{"row":44,"sample":2,"z":-0.35},{"row":44,"sample":3,"z":-0.35},{"row":44,"sample":4,"z":1.85},{"row":44,"sample":5,"z":2.75},{"row":44,"sample":6,"z":1.3},{"row":44,"sample":7,"z":-0.35},{"row":44,"sample":8,"z":-0.35},{"row":44,"sample":9,"z":-0.35},{"row":44,"sample":10,"z":-0.35},{"row":44,"sample":11,"z":-0.35},{"row":44,"sample":12,"z":-0.35},{"row":44,"sample":13,"z":-0.35},{"row":44,"sample":14,"z":-0.35},{"row":44,"sample":15,"z":-0.35},
{"row":45,"sample":1,"z":-0.35},{"row":45,"sample":2,"z":-0.35},{"row":45,"sample":3,"z":-0.45},{"row":45,"sample":4,"z":1.85},{"row":45,"sample":5,"z":2.85},{"row":45,"sample":6,"z":0.9},{"row":45,"sample":7,"z":-0.35},{"row":45,"sample":8,"z":-0.35},{"row":45,"sample":9,"z":-0.35},{"row":45,"sample":10,"z":-0.35},{"row":45,"sample":11,"z":-0.35},{"row":45,"sample":12,"z":-0.35},{"row":45,"sample":13,"z":-0.35},{"row":45,"sample":14,"z":-0.35},{"row":45,"sample":15,"z":-0.35},
{"row":46,"sample":1,"z":-0.35},{"row":46,"sample":2,"z":-0.45},{"row":46,"sample":3,"z":-0.35},{"row":46,"sample":4,"z":2.2},{"row":46,"sample":5,"z":2.05},{"row":46,"sample":6,"z":1.55},{"row":46,"sample":7,"z":-0.35},{"row":46,"sample":8,"z":-0.35},{"row":46,"sample":9,"z":-0.35},{"row":46,"sample":10,"z":-0.35},{"row":46,"sample":11,"z":-0.35},{"row":46,"sample":12,"z":-0.35},{"row":46,"sample":13,"z":-0.35},{"row":46,"sample":14,"z":-0.35},{"row":46,"sample":15,"z":-0.35},
{"row":47,"sample":1,"z":-0.35},{"row":47,"sample":2,"z":-0.35},{"row":47,"sample":3,"z":-0.45},{"row":47,"sample":4,"z":2.65},{"row":47,"sample":5,"z":2.35},{"row":47,"sample":6,"z":0.6},{"row":47,"sample":7,"z":-0.35},{"row":47,"sample":8,"z":-0.35},{"row":47,"sample":9,"z":-0.35},{"row":47,"sample":10,"z":-0.35},{"row":47,"sample":11,"z":-0.35},{"row":47,"sample":12,"z":-0.35},{"row":47,"sample":13,"z":-0.35},{"row":47,"sample":14,"z":-0.35},{"row":47,"sample":15,"z":-0.35},
{"row":48,"sample":1,"z":-0.5},{"row":48,"sample":2,"z":0.35},{"row":48,"sample":3,"z":-1.35},{"row":48,"sample":4,"z":2.35},{"row":48,"sample":5,"z":2.05},{"row":48,"sample":6,"z":1.15},{"row":48,"sample":7,"z":-0.1},{"row":48,"sample":8,"z":-0.6},{"row":48,"sample":9,"z":-0.5},{"row":48,"sample":10,"z":-0.9},{"row":48,"sample":11,"z":-0.1},{"row":48,"sample":12,"z":0.2},{"row":48,"sample":13,"z":-0.2},{"row":48,"sample":14,"z":0.6},{"row":48,"sample":15,"z":-0.5},
{"row":49,"sample":1,"z":-1.35},{"row":49,"sample":2,"z":0.45},{"row":49,"sample":3,"z":-0.6},{"row":49,"sample":4,"z":2.35},{"row":49,"sample":5,"z":2.05},{"row":49,"sample":6,"z":1.55},{"row":49,"sample":7,"z":-0.35},{"row":49,"sample":8,"z":-1.1},{"row":49,"sample":9,"z":-0.8},{"row":49,"sample":10,"z":-0.35},{"row":49,"sample":11,"z":-0.9},{"row":49,"sample":12,"z":0.2},{"row":49,"sample":13,"z":0.2},{"row":49,"sample":14,"z":0.05},{"row":49,"sample":15,"z":-0.2},
{"row":50,"sample":1,"z":-0.35},{"row":50,"sample":2,"z":-0.6},{"row":50,"sample":3,"z":-0.5},{"row":50,"sample":4,"z":2.9},{"row":50,"sample":5,"z":1.15},{"row":50,"sample":6,"z":1.3},{"row":50,"sample":7,"z":-1.15},{"row":50,"sample":8,"z":-0.8},{"row":50,"sample":9,"z":-0.35},{"row":50,"sample":10,"z":0.35},{"row":50,"sample":11,"z":-0.5},{"row":50,"sample":12,"z":-0.35},{"row":50,"sample":13,"z":-0.35},{"row":50,"sample":14,"z":0.6},{"row":50,"sample":15,"z":-0.35}
  ]
},
"spacing": 26,
"resolve": {"scale": {"color": "independent"}},
"vconcat": [
 {
  "bounds": "flush",
  "spacing": 28,
  "resolve": {"scale": {"color": "independent"}},
  "hconcat": [
   {
    "width": 61, "height": 256,
    "view": {"stroke": null},
    "data": {"values": []},
    "mark": "text",
    "encoding": {}
   },
   {
    "width": 301, "height": 256,
    "view": {"stroke": "#333333", "strokeWidth": 2.5},
    "title": {"text": "A)", "anchor": "start", "frame": "bounds", "offset": 3, "fontSize": 32},
    "layer": [
     {
      "data": {"name": "hull"},
      "mark": {"type": "line", "strokeWidth": 2, "fillOpacity": 0.45, "strokeJoin": "round"},
      "encoding": {
        "x": {"field": "pc1", "type": "quantitative", "scale": {"domain": [-25.2, 25.6], "nice": false, "zero": false},
              "axis": {"title": "PC1: 24% variance", "values": [-20, -10, 0, 10, 20], "grid": true, "gridColor": "#E3E3E3", "gridWidth": 1.6,
                       "tickColor": "#333333", "tickSize": 5, "tickWidth": 1.5, "domain": false, "labelFlush": false, "labelOverlap": false,
                       "labelColor": "black", "labelOpacity": 1, "zindex": 1,
                       "labelFontSize": 30, "labelPadding": 2, "titlePadding": 3, "titleFontSize": 32}},
        "y": {"field": "pc2", "type": "quantitative", "scale": {"domain": [-20.4, 23.2], "nice": false, "zero": false},
              "axis": {"title": "PC2: 17% variance", "values": [-20,-15,-10,-5,0,5,10,15,20], "labelExpr": "datum.value % 10 === 0 ? datum.label : ''",
                       "labelOverlap": false, "grid": true, "gridColor": {"condition": {"test": "datum.value % 10 === 0", "value": "#E3E3E3"}, "value": "#F1F1F1"},
                       "gridWidth": {"condition": {"test": "datum.value % 10 === 0", "value": 1.6}, "value": 0.9},
                       "tickOpacity": {"condition": {"test": "datum.value % 10 === 0", "value": 1}, "value": 0},
                       "tickColor": "#333333", "tickSize": 5, "tickWidth": 1.5, "domain": false, "labelFlush": false,
                       "labelFontSize": 30, "labelPadding": 1, "titlePadding": 1, "titleFontSize": 32}},
        "order": {"field": "ord", "type": "quantitative"},
        "stroke": {"field": "group", "type": "nominal", "legend": null,
                   "scale": {"domain": ["WT-CSD", "WT-HFrD", "Casp2\u207b/\u207b-HFrD", "Pidd1\u207b/\u207b-HFrD", "Raidd\u207b/\u207b-HFrD"], "range": ["#F3766E", "#3B51A3", "#4DAF4A", "#FBB040", "#1CB4E8"]}},
        "fill": {"field": "group", "type": "nominal", "legend": null,
                 "scale": {"domain": ["WT-CSD", "WT-HFrD", "Casp2\u207b/\u207b-HFrD", "Pidd1\u207b/\u207b-HFrD", "Raidd\u207b/\u207b-HFrD"], "range": ["#F3766E", "#3B51A3", "#4DAF4A", "#FBB040", "#1CB4E8"]}}
      }
     },
     {
      "data": {"name": "pca"},
      "mark": {"type": "circle", "size": 150, "opacity": 1},
      "encoding": {
        "x": {"field": "pc1", "type": "quantitative"},
        "y": {"field": "pc2", "type": "quantitative"},
        "color": {"field": "group", "type": "nominal",
                  "scale": {"domain": ["WT-CSD", "WT-HFrD", "Casp2\u207b/\u207b-HFrD", "Pidd1\u207b/\u207b-HFrD", "Raidd\u207b/\u207b-HFrD"], "range": ["#F3766E", "#3B51A3", "#4DAF4A", "#FBB040", "#1CB4E8"]},
                  "legend": {"title": null, "orient": "right", "offset": 8, "padding": 0, "symbolType": "circle", "symbolSize": 900, "symbolStrokeWidth": 0, "symbolOpacity": 1,
                             "labelFontSize": 32, "labelOffset": 11, "rowPadding": 13, "labelLimit": 400}}
      }
     }
    ]
   },
   {
    "width": 620, "height": 256,
    "view": {"stroke": null},
    "title": {"text": "C)", "anchor": "start", "offset": 3, "dx": 271, "fontSize": 32},
    "data": {"values": []},
    "mark": "text",
    "encoding": {}
   },
   {
    "width": 182, "height": 174,
    "view": {"stroke": null},
    "title": {"text": "Adipogenesis", "orient": "bottom", "offset": -32, "fontSize": 32},
    "layer": [
     {
      "data": {"name": "fdr"},
      "transform": [{"filter": "datum.pathway === 'Adipogenesis'"}],
      "mark": {"type": "rect", "stroke": "black", "strokeWidth": 2.5},
      "encoding": {
        "x": {"field": "dir", "type": "nominal", "sort": ["UP genes", "DOWN genes"], "scale": {"paddingInner": 0, "paddingOuter": 0},
              "axis": {"orient": "top", "title": null, "domain": false, "ticks": false, "labelAngle": 0, "labelFontSize": 32, "labelLineHeight": 21, "labelPadding": 13, "labelExpr": "split(datum.label, ' ')"}},
        "y": {"field": "cmp", "type": "nominal", "sort": ["WT-HFrD / WT-CSD", "Casp2-/--HFrD / WT-HFrD", "Pidd1-/--HFrD / WT-HFrD", "Raidd-/--HFrD / WT-HFrD"],
              "scale": {"paddingInner": 0, "paddingOuter": 0.122, "align": 1},
              "axis": {"orient": "left", "labels": false, "ticks": false, "domain": false, "title": "Hallmark pathways", "titleAngle": 0, "titleAlign": "right", "titleBaseline": "middle", "titleX": -54, "titleY": 284, "titleFontSize": 32}},
        "color": {"field": "v", "type": "quantitative", "scale": {"domain": [0, 22], "range": ["#ffffff", "#c62028"], "interpolate": "rgb"},
                  "legend": {"title": "-log10(FDR)", "titleOrient": "left", "titleFontSize": 29, "titlePadding": 12, "orient": "none", "legendX": -120, "legendY": 185, "direction": "horizontal",
                             "gradientLength": 71, "gradientThickness": 18, "values": [0, 20], "labelFontSize": 29, "labelAlign": "center", "labelOffset": 4,
                             "gradientStrokeColor": "black", "gradientStrokeWidth": 1.5}}
      }
     },
     {
      "data": {"name": "cmplab"},
      "mark": {"type": "text", "fontSize": 33, "align": "right", "baseline": "middle", "dx": -102},
      "encoding": {"y": {"field": "cmp", "type": "nominal", "sort": ["WT-HFrD / WT-CSD", "Casp2-/--HFrD / WT-HFrD", "Pidd1-/--HFrD / WT-HFrD", "Raidd-/--HFrD / WT-HFrD"]}, "text": {"field": "rest"}}
     },
     {
      "data": {"name": "cmplab"},
      "mark": {"type": "text", "fontSize": 20, "align": "right", "baseline": "middle", "dx": -360, "dy": -11},
      "encoding": {"y": {"field": "cmp", "type": "nominal", "sort": ["WT-HFrD / WT-CSD", "Casp2-/--HFrD / WT-HFrD", "Pidd1-/--HFrD / WT-HFrD", "Raidd-/--HFrD / WT-HFrD"]}, "text": {"field": "sup"}}
     },
     {
      "data": {"name": "cmplab"},
      "mark": {"type": "text", "fontSize": 33, "fontStyle": "italic", "align": "right", "baseline": "middle", "dx": -379},
      "encoding": {"y": {"field": "cmp", "type": "nominal", "sort": ["WT-HFrD / WT-CSD", "Casp2-/--HFrD / WT-HFrD", "Pidd1-/--HFrD / WT-HFrD", "Raidd-/--HFrD / WT-HFrD"]}, "text": {"field": "gene"}}
     }
    ]
   },
   {
    "width": 182, "height": 174,
    "view": {"stroke": null},
    "title": {"text": ["Fatty Acid", "Metabolism"], "orient": "bottom", "offset": 19, "fontSize": 32, "lineHeight": 29},
    "data": {"name": "fdr"},
    "transform": [{"filter": "datum.pathway === 'Fatty Acid Metabolism'"}],
    "mark": {"type": "rect", "stroke": "black", "strokeWidth": 2.5},
    "encoding": {
      "x": {"field": "dir", "type": "nominal", "sort": ["UP genes", "DOWN genes"], "scale": {"paddingInner": 0, "paddingOuter": 0},
            "axis": {"orient": "top", "title": null, "domain": false, "ticks": false, "labelAngle": 0, "labelFontSize": 32, "labelLineHeight": 21, "labelPadding": 13, "labelExpr": "split(datum.label, ' ')"}},
      "y": {"field": "cmp", "type": "nominal", "sort": ["WT-HFrD / WT-CSD", "Casp2-/--HFrD / WT-HFrD", "Pidd1-/--HFrD / WT-HFrD", "Raidd-/--HFrD / WT-HFrD"],
            "scale": {"paddingInner": 0, "paddingOuter": 0.122, "align": 1}, "axis": null},
      "color": {"field": "v", "type": "quantitative", "scale": {"domain": [0, 23.5], "range": ["#ffffff", "#c62028"], "interpolate": "rgb"},
                "legend": {"title": null, "orient": "none", "legendX": 52, "legendY": 185, "direction": "horizontal",
                           "gradientLength": 71, "gradientThickness": 18, "values": [0, 23], "labelFontSize": 29, "labelAlign": "center", "labelOffset": 4,
                           "gradientStrokeColor": "black", "gradientStrokeWidth": 1.5}}
    }
   },
   {
    "width": 182, "height": 174,
    "view": {"stroke": null},
    "title": {"text": ["Oxidative", "Phosphorylation"], "orient": "bottom", "offset": 19, "fontSize": 32, "lineHeight": 29},
    "data": {"name": "fdr"},
    "transform": [{"filter": "datum.pathway === 'Oxidative Phosphorylation'"}],
    "mark": {"type": "rect", "stroke": "black", "strokeWidth": 2.5},
    "encoding": {
      "x": {"field": "dir", "type": "nominal", "sort": ["UP genes", "DOWN genes"], "scale": {"paddingInner": 0, "paddingOuter": 0},
            "axis": {"orient": "top", "title": null, "domain": false, "ticks": false, "labelAngle": 0, "labelFontSize": 32, "labelLineHeight": 21, "labelPadding": 13, "labelExpr": "split(datum.label, ' ')"}},
      "y": {"field": "cmp", "type": "nominal", "sort": ["WT-HFrD / WT-CSD", "Casp2-/--HFrD / WT-HFrD", "Pidd1-/--HFrD / WT-HFrD", "Raidd-/--HFrD / WT-HFrD"],
            "scale": {"paddingInner": 0, "paddingOuter": 0.122, "align": 1}, "axis": null},
      "color": {"field": "v", "type": "quantitative", "scale": {"domain": [0, 21], "range": ["#ffffff", "#c62028"], "interpolate": "rgb"},
                "legend": {"title": null, "orient": "none", "legendX": 52, "legendY": 185, "direction": "horizontal",
                           "gradientLength": 71, "gradientThickness": 18, "values": [0, 20], "labelFontSize": 29, "labelAlign": "center", "labelOffset": 4,
                           "gradientStrokeColor": "black", "gradientStrokeWidth": 1.5}}
    }
   },
   {
    "width": 182, "height": 174,
    "view": {"stroke": null},
    "title": {"text": ["mTORC1", "Signaling"], "orient": "bottom", "offset": 19, "fontSize": 32, "lineHeight": 29},
    "data": {"name": "fdr"},
    "transform": [{"filter": "datum.pathway === 'mTORC1 Signaling'"}],
    "mark": {"type": "rect", "stroke": "black", "strokeWidth": 2.5},
    "encoding": {
      "x": {"field": "dir", "type": "nominal", "sort": ["UP genes", "DOWN genes"], "scale": {"paddingInner": 0, "paddingOuter": 0},
            "axis": {"orient": "top", "title": null, "domain": false, "ticks": false, "labelAngle": 0, "labelFontSize": 32, "labelLineHeight": 21, "labelPadding": 13, "labelExpr": "split(datum.label, ' ')"}},
      "y": {"field": "cmp", "type": "nominal", "sort": ["WT-HFrD / WT-CSD", "Casp2-/--HFrD / WT-HFrD", "Pidd1-/--HFrD / WT-HFrD", "Raidd-/--HFrD / WT-HFrD"],
            "scale": {"paddingInner": 0, "paddingOuter": 0.122, "align": 1}, "axis": null},
      "color": {"field": "v", "type": "quantitative", "scale": {"domain": [0, 9.4], "range": ["#ffffff", "#c62028"], "interpolate": "rgb"},
                "legend": {"title": null, "orient": "none", "legendX": 52, "legendY": 185, "direction": "horizontal",
                           "gradientLength": 71, "gradientThickness": 18, "values": [0, 9], "labelFontSize": 29, "labelAlign": "center", "labelOffset": 4,
                           "gradientStrokeColor": "black", "gradientStrokeWidth": 1.5}}
    }
   },
   {
    "width": 182, "height": 174,
    "view": {"stroke": null},
    "title": {"text": ["Protein", "Secretion"], "orient": "bottom", "offset": 19, "fontSize": 32, "lineHeight": 29},
    "data": {"name": "fdr"},
    "transform": [{"filter": "datum.pathway === 'Protein Secretion'"}],
    "mark": {"type": "rect", "stroke": "black", "strokeWidth": 2.5},
    "encoding": {
      "x": {"field": "dir", "type": "nominal", "sort": ["UP genes", "DOWN genes"], "scale": {"paddingInner": 0, "paddingOuter": 0},
            "axis": {"orient": "top", "title": null, "domain": false, "ticks": false, "labelAngle": 0, "labelFontSize": 32, "labelLineHeight": 21, "labelPadding": 13, "labelExpr": "split(datum.label, ' ')"}},
      "y": {"field": "cmp", "type": "nominal", "sort": ["WT-HFrD / WT-CSD", "Casp2-/--HFrD / WT-HFrD", "Pidd1-/--HFrD / WT-HFrD", "Raidd-/--HFrD / WT-HFrD"],
            "scale": {"paddingInner": 0, "paddingOuter": 0.122, "align": 1}, "axis": null},
      "color": {"field": "v", "type": "quantitative", "scale": {"domain": [0, 5.2], "range": ["#ffffff", "#c62028"], "interpolate": "rgb"},
                "legend": {"title": null, "orient": "none", "legendX": 52, "legendY": 185, "direction": "horizontal",
                           "gradientLength": 71, "gradientThickness": 18, "values": [0, 5], "labelFontSize": 29, "labelAlign": "center", "labelOffset": 4,
                           "gradientStrokeColor": "black", "gradientStrokeWidth": 1.5}}
    }
   }
  ]
 },
 {
  "spacing": 16,
  "resolve": {"scale": {"color": "independent"}},
  "hconcat": [
   {
    "title": {"text": "B)", "anchor": "start", "frame": "bounds", "offset": 4, "fontSize": 32},
    "spacing": 2,
    "resolve": {"scale": {"color": "independent"}},
    "vconcat": [
     {
      "width": 519, "height": 80,
      "view": {"stroke": null},
      "data": {"name": "bhdr"},
      "encoding": {
        "x": {"field": "grp", "type": "nominal", "sort": ["WT-CSD", "WT-HFrD", "Casp2-HFrD", "Pidd1-HFrD", "Raidd-HFrD"], "scale": {"type": "band", "paddingInner": 0.11, "paddingOuter": 0.055}, "axis": null},
        "y": {"field": "line", "type": "nominal", "sort": ["top", "bottom"], "scale": {"type": "band", "paddingInner": 0, "paddingOuter": 0}, "axis": null}
      },
      "layer": [
        {"transform": [{"filter": "datum.kind === 'plain'"}], "mark": {"type": "text", "fontSize": 31, "baseline": "middle"}, "encoding": {"text": {"field": "txt"}}},
        {"transform": [{"filter": "datum.kind === 'gene'"}], "mark": {"type": "text", "fontSize": 31, "fontStyle": "italic", "align": "right", "baseline": "middle", "dx": 20}, "encoding": {"text": {"field": "txt"}}},
        {"transform": [{"filter": "datum.kind === 'sup'"}], "mark": {"type": "text", "fontSize": 19, "align": "left", "baseline": "middle", "dx": 20, "dy": -11}, "encoding": {"text": {"field": "txt"}}},
        {"transform": [{"filter": "datum.kind === 'line'"}], "mark": {"type": "tick", "orient": "horizontal", "size": 92, "thickness": 3, "color": "black", "opacity": 1, "yOffset": 21}, "encoding": {}}
      ]
     },
     {
      "width": 519, "height": 594,
      "view": {"stroke": "black", "strokeWidth": 5},
      "layer": [
       {
        "data": {"name": "expr"},
        "mark": {"type": "rect", "stroke": "white", "strokeWidth": 0.6, "strokeOpacity": 0.3},
        "encoding": {
          "x": {"field": "sample", "type": "ordinal", "scale": {"paddingInner": 0, "paddingOuter": 0}, "axis": null},
          "y": {"field": "row", "type": "ordinal", "scale": {"paddingInner": 0, "paddingOuter": 0}, "axis": null},
          "color": {"field": "z", "type": "quantitative", "scale": {"scheme": "magma", "domain": [-3.65, 3.6]},
                    "legend": {"title": "Expression z-score", "titleLimit": 500, "orient": "none", "legendX": 138, "legendY": 598, "direction": "horizontal",
                               "gradientLength": 206, "gradientThickness": 40, "titleOrient": "top", "titleAnchor": "middle", "titleFontSize": 32, "titlePadding": 4,
                               "labelFontSize": 32, "values": [-2, 0, 2], "labelAlign": "center", "labelOffset": 4,
                               "gradientStrokeColor": "black", "gradientStrokeWidth": 2.5}}
        }
       },
       {
        "data": {"values": [{"sample": 4}, {"sample": 7}, {"sample": 10}, {"sample": 13}]},
        "mark": {"type": "rule", "color": "black", "strokeWidth": 3.5},
        "encoding": {"x": {"field": "sample", "type": "ordinal", "bandPosition": 0}}
       }
      ]
     }
    ]
   },
   {
    "width": 346, "height": 805,
    "view": {"stroke": null},
    "data": {"name": "genes"},
    "mark": {"type": "text", "font": "Liberation Sans", "fontSize": 24, "align": "left", "baseline": "middle", "dx": 2},
    "encoding": {
      "x": {"field": "col", "type": "ordinal", "scale": {"type": "point", "padding": 0.461, "align": 0},
            "axis": {"orient": "top", "offset": -31, "title": "Overlapped genes", "titleFont": "Liberation Sans", "titleFontSize": 32, "titlePadding": 7, "titleFontWeight": "normal",
                     "labels": false, "ticks": false, "domain": true, "domainColor": "black", "domainWidth": 3, "grid": false}},
      "y": {"field": "row", "type": "ordinal", "scale": {"type": "band", "paddingInner": 0, "paddingOuter": 0.8325, "align": 1}, "axis": null},
      "text": {"field": "gene"}
    }
   }
  ]
 }
]
}
